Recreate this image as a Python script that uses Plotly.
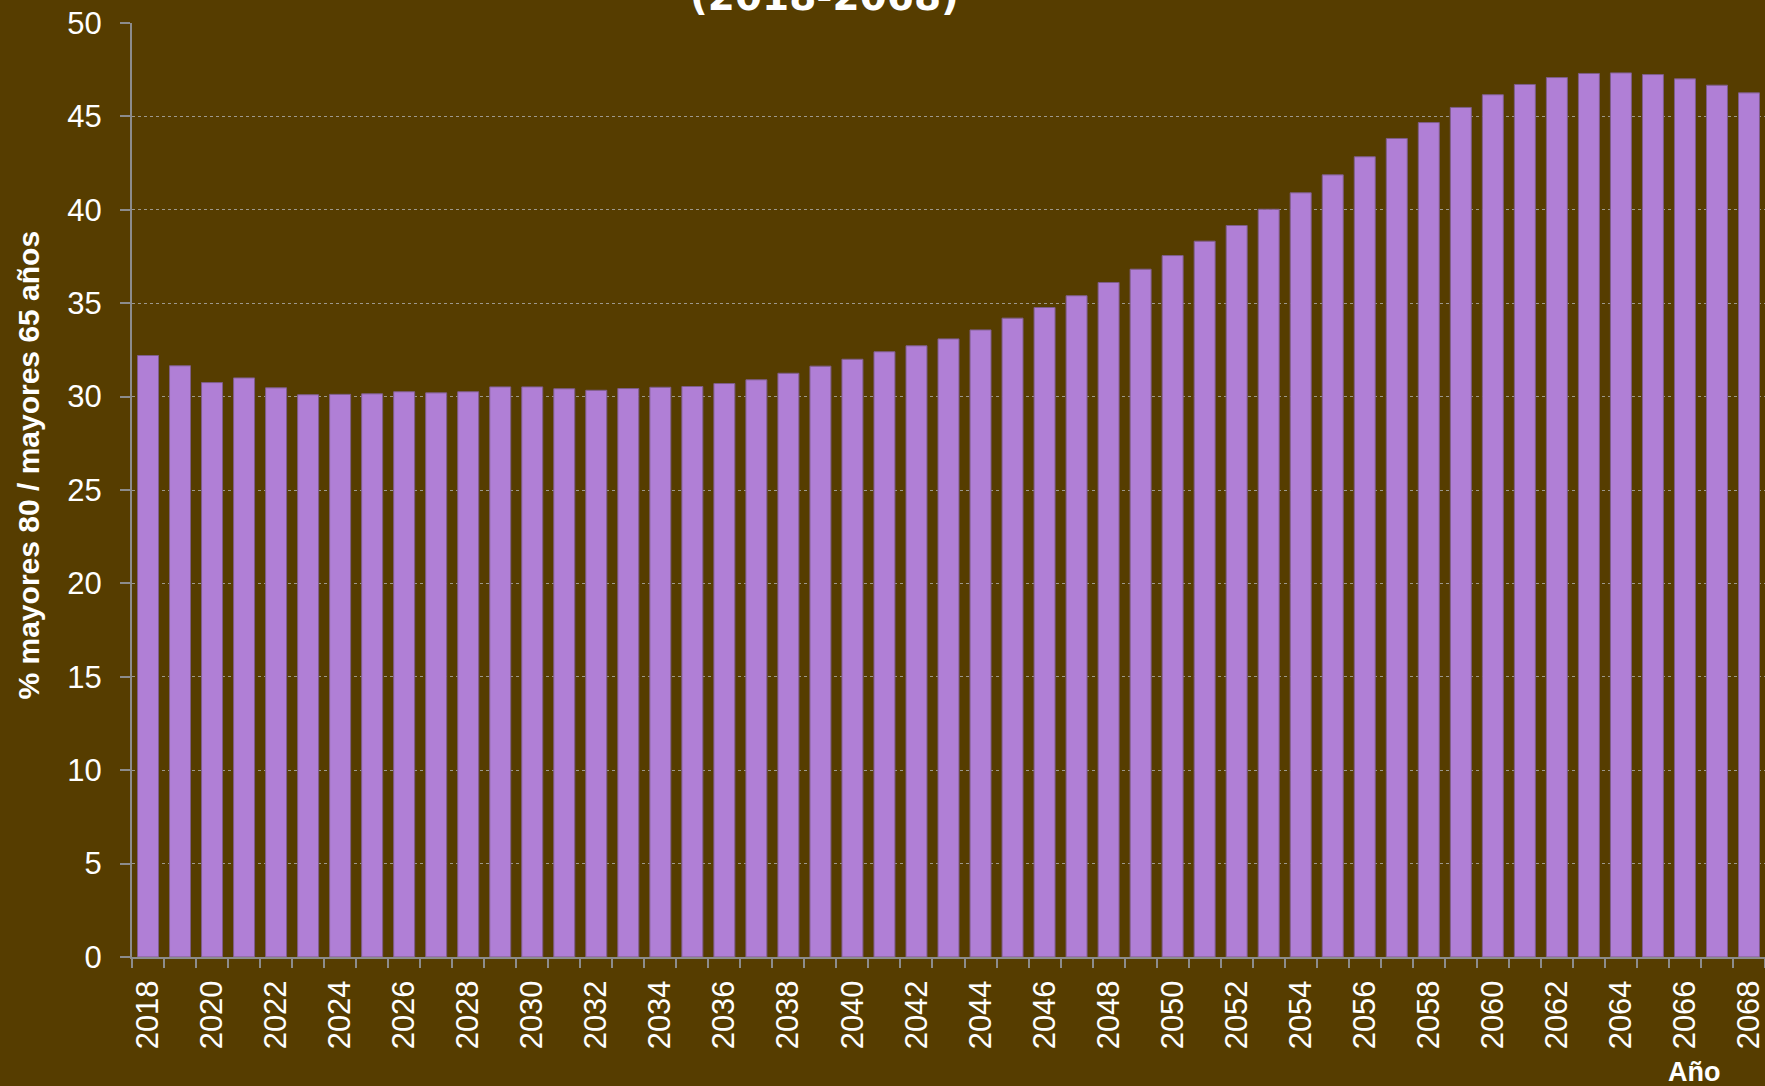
import plotly.graph_objects as go

# ---- data ----
years = list(range(2018, 2069))
values = [32.2, 31.65, 30.75, 31.0, 30.47, 30.1, 30.12, 30.15, 30.26, 30.2,
          30.26, 30.52, 30.52, 30.42, 30.34, 30.43, 30.5, 30.54, 30.7, 30.9,
          31.25, 31.63, 32.0, 32.4, 32.72, 33.09, 33.57, 34.2, 34.77, 35.4,
          36.11, 36.82, 37.55, 38.32, 39.16, 40.03, 40.91, 41.87, 42.84, 43.82,
          44.67, 45.48, 46.16, 46.71, 47.08, 47.30, 47.33, 47.24, 47.01, 46.67,
          46.26]
label_years = [y for y in years if y % 2 == 0]
y_ticks = [0, 5, 10, 15, 20, 25, 30, 35, 40, 45, 50]
title_text = "(2018-2068)"
y_title = "% mayores 80 / mayores 65 años"
x_title = "Año"

# ---- layout geometry ----
W, H = 1765, 1086
L, R, T, B = 132, 0, 23, 129
pw, ph = W - L - R, H - T - B

def px_x(p):
    return (p - L) / pw

def px_y(p):
    return (H - B - p) / ph

BG = "#563D00"
BAR = "#B07FD6"
AXIS = "#8C8C8C"
GRID = "rgba(175,175,175,0.8)"
FONT = "Liberation Sans, Arial, sans-serif"

fig = go.Figure()
fig.add_trace(go.Bar(
    x=years, y=values,
    width=0.655,
    marker=dict(color=BAR, line=dict(color="#7E5E8A", width=1)),
    hoverinfo="x+y",
))

fig.update_layout(
    width=W, height=H,
    margin=dict(l=L, r=R, t=T, b=B, pad=0),
    paper_bgcolor=BG, plot_bgcolor=BG,
    showlegend=False,
    font=dict(family=FONT, color="white"),
    bargap=0.35,
)

fig.update_xaxes(
    range=[years[0] - 0.5, years[-1] + 0.5],
    tickmode="array", tickvals=label_years,
    ticktext=[str(y) for y in label_years],
    tickangle=-90,
    tickfont=dict(family=FONT, size=31, color="white"),
    ticks="", ticklabelstandoff=9,
    ticklabeloverflow="allow",
    showline=True, linecolor=AXIS, linewidth=2,
    showgrid=False, zeroline=False,
    minor=dict(tickmode="linear", tick0=years[0] - 0.5, dtick=1,
               ticks="outside", ticklen=9, tickwidth=1.5, tickcolor=AXIS,
               showgrid=False),
)

fig.update_yaxes(
    range=[0, 50],
    tickmode="array", tickvals=y_ticks,
    tickfont=dict(family=FONT, size=31, color="white"),
    ticks="outside", ticklen=10, tickwidth=1.5, tickcolor=AXIS,
    ticklabelstandoff=12,
    showline=True, linecolor=AXIS, linewidth=2,
    showgrid=True, gridcolor=GRID, griddash="dot", gridwidth=1,
    zeroline=False,
)

fig.add_annotation(
    text="<b>" + title_text + "</b>", xref="paper", yref="paper",
    x=px_x(824), y=px_y(21), xanchor="center", yanchor="bottom",
    showarrow=False,
    font=dict(family="DejaVu Sans, Verdana, sans-serif", size=39, color="white"),
)
fig.add_annotation(
    text="<b>" + y_title + "</b>", xref="paper", yref="paper",
    x=px_x(27.5), y=px_y(465), xanchor="center", yanchor="middle",
    textangle=-90, showarrow=False,
    font=dict(family=FONT, size=30, color="white"),
)
fig.add_annotation(
    text="<b>" + x_title + "</b>", xref="paper", yref="paper",
    x=px_x(1694), y=px_y(1072), xanchor="center", yanchor="middle",
    showarrow=False,
    font=dict(family=FONT, size=27, color="white"),
)

fig.write_html(
    "out.html",
    config={"displayModeBar": False},
    post_script="document.body.style.margin='0';document.body.style.padding='0';"
                "document.body.style.overflow='hidden';"
                "document.body.style.background='" + BG + "';",
)
